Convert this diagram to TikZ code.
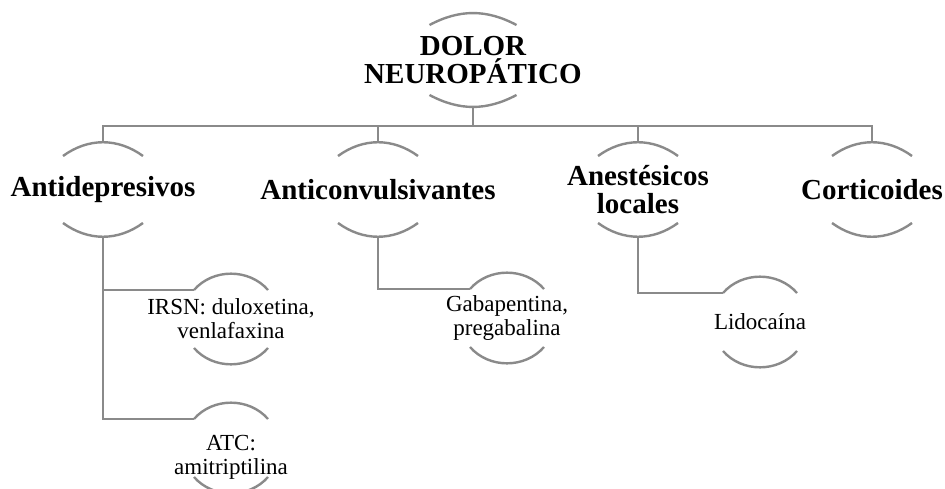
\documentclass[tikz,border=0pt]{standalone}
\usepackage{fontspec}
\setmainfont{Liberation Serif}
\usepackage{tikz}

\definecolor{linegray}{RGB}{138,138,138}
\tikzset{
    conn/.style={draw=linegray, line width=2.4pt},
    bigtext/.style={font=\fontsize{29}{28}\selectfont\bfseries, align=center},
    smalltext/.style={font=\fontsize{23}{24}\selectfont, align=center}
}
% name, centre, half width, height of the arc ends, bend
\newcommand{\bubble}[5]{
    \coordinate (#1-c) at (#2);
    \draw[conn] (#1-c) ++(-#3,#4) coordinate (#1-l)
        to[bend left=#5] coordinate[pos=.5] (#1-n) ++(2*#3,0);
    \draw[conn] (#1-c) ++(-#3,-#4)
        to[bend right=#5] coordinate[pos=.5] (#1-s) ++(2*#3,0);
}

\begin{document}
\begin{tikzpicture}[x=1pt, y=1pt]
    \useasboundingbox (0,0) rectangle (945,-489);
    \clip (0,0) rectangle (945,-489);

    \bubble{dolor}{473,-60}{43.5}{35}{28}
    \foreach \n/\x in {antidep/103, anticonv/378, anest/638, cortic/872}
    {
        \bubble{\n}{\x,-189.5}{40}{33.5}{36}
    }
    \foreach \n/\x/\y in {irsn/231/-319, atc/231/-448, gaba/507/-318, lido/760/-322}
    {
        \bubble{\n}{\x,\y}{37}{29}{49}
    }

    \node[bigtext] (dolor) at (dolor-c) {DOLOR\\NEUROPÁTICO};
    \node[bigtext] (antidep) at (antidep-c) {Antidepresivos};
    \node[bigtext] (anticonv) at (anticonv-c) {Anticonvulsivantes};
    \node[bigtext] (anest) at (anest-c) {Anestésicos\\locales};
    \node[bigtext] (cortic) at (cortic-c) {Corticoides};
    \node[smalltext] (irsn) at (irsn-c) {IRSN: duloxetina,\\venlafaxina};
    \node[smalltext] (atc) at ([yshift=-9pt]atc-c) {ATC:\\amitriptilina};
    \node[smalltext] (gaba) at (gaba-c) {Gabapentina,\\pregabalina};
    \node[smalltext] (lido) at (lido-c) {Lidocaína};

    % connectors
    \foreach \n in {antidep, anticonv, anest, cortic}
        \draw[conn] (dolor-s) -- ++(0,-19) -| (\n-n);
    \draw[conn] (antidep-s) |- (irsn-l);
    \draw[conn] (antidep-s) |- (atc-l);
    \draw[conn] (anticonv-s) |- (gaba-l);
    \draw[conn] (anest-s) |- (lido-l);
\end{tikzpicture}
\end{document}
